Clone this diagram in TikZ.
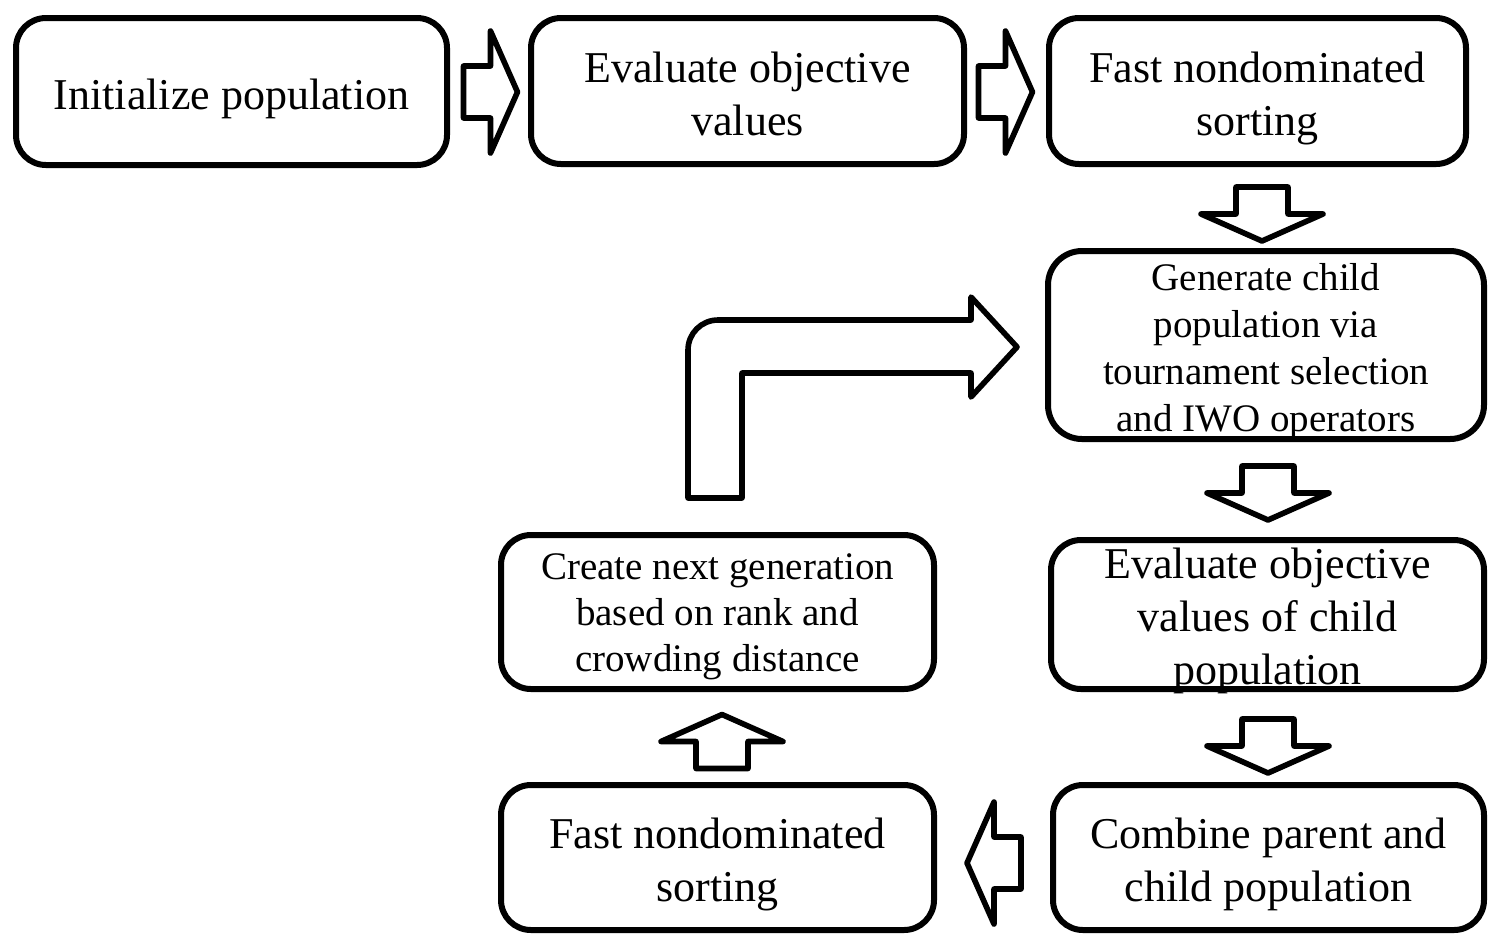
\documentclass[tikz,border=0pt]{standalone}
\usepackage{fontspec}
\setmainfont{Liberation Serif}
\newcommand{\fbig}{\fontsize{22pt}{26.5pt}\selectfont}
\newcommand{\fsmallA}{\fontsize{19.5pt}{23.5pt}\selectfont}
\newcommand{\fsmallB}{\fontsize{19.5pt}{23.2pt}\selectfont}
\newcommand{\strutA}{\rule{0pt}{16pt}}
\newcommand{\strutB}{\rule{0pt}{14pt}}
\tikzset{
  box/.style={draw, line width=3pt, rounded corners=15pt, inner sep=0pt, outer sep=0pt, fill=white},
  txt/.style={anchor=north, inner sep=0pt, outer sep=0pt, align=center},
  bigtxt/.style={txt, font=\fbig},
  arrowline/.style={draw, line width=2.8pt, line join=round, fill=white},
  barrow/.pic={\path[arrowline] (-27,-26) -- (0,-26) -- (0,-61) -- (27,0) -- (0,61) -- (0,26) -- (-27,26) -- cycle;}
}
\begin{document}
\begin{tikzpicture}[x=0.5pt,y=-0.5pt]
\fill[white] (0,0) rectangle (1500,950);
\useasboundingbox (0,0) rectangle (1500,950);
% boxes
\node[box, minimum width=215.5pt, minimum height=73.5pt] (b1) at (231.5,91.5) {};
\node[box, minimum width=216.5pt, minimum height=73pt] (b2) at (747.5,91) {};
\node[box, minimum width=208.5pt, minimum height=73pt] (b3) at (1257.5,91) {};
\node[box, rounded corners=17pt, minimum width=218pt, minimum height=94pt] (b4) at (1266,345) {};
\node[box, minimum width=216.5pt, minimum height=74.5pt] (b5) at (1267.5,614.5) {};
\node[box, minimum width=215.5pt, minimum height=72.5pt] (b6) at (1268.5,857.5) {};
\node[box, minimum width=216.5pt, minimum height=72.5pt] (b7) at (717.5,857.5) {};
\node[box, minimum width=216.5pt, minimum height=77pt] (b8) at (717.5,612) {};
% texts
\node[bigtxt] (t1) at (231.5,77) {\strutA Initialize population};
\node[bigtxt] (t2) at (747.5,50) {\strutA Evaluate objective\\values};
\node[bigtxt] (t3) at (1257.5,50) {\strutA Fast nondominated\\sorting};
\node[txt, font=\fsmallA] (t4) at (1266,262) {\strutB Generate child\\population via\\tournament selection\\and IWO operators};
\node[bigtxt] (t5) at (1267.5,546) {\strutA Evaluate objective\\values of child\\population};
\node[bigtxt] (t6) at (1268.5,816) {\strutA Combine parent and\\child population};
\node[bigtxt] (t7) at (717.5,816) {\strutA Fast nondominated\\sorting};
\node[txt, font=\fsmallB] (t8) at (717.5,551) {\strutB Create next generation\\based on rank and\\crowding distance};
% block arrows
\pic at (490.5,92) {barrow};
\pic at (1005.5,92) {barrow};
\pic[rotate=-90] at (1262,214) {barrow};
\pic[rotate=-90] at (1268,493) {barrow};
\pic[rotate=-90] at (1268,746) {barrow};
\pic[rotate=180] at (994,863) {barrow};
\pic[rotate=90] at (722,741.5) {barrow};
% bent arrow
\path[arrowline] (688,498) -- (688,350) .. controls (688,333.4) and (701.4,320) .. (718,320) -- (971,320) -- (971,297) -- (1017,347) -- (971,397) -- (971,373) -- (742,373) -- (742,498) -- cycle;
\end{tikzpicture}
\end{document}
